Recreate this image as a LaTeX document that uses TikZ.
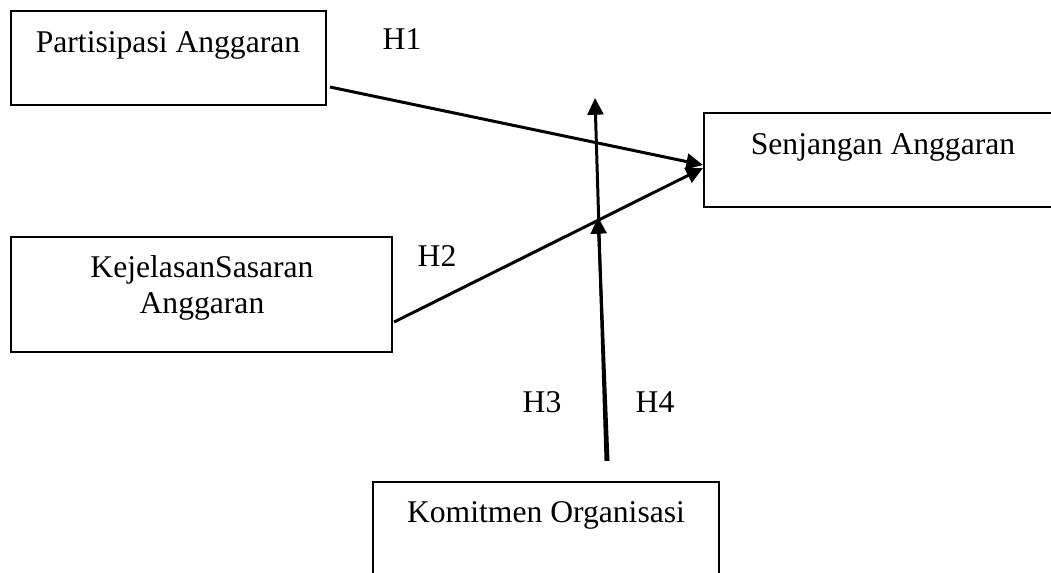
\documentclass[tikz,border=0pt]{standalone}
\usepackage{fontspec}
\setmainfont{Liberation Serif}
\usetikzlibrary{arrows.meta,positioning,calc}

\begin{document}
\begin{tikzpicture}[
  x=0.02cm,y=-0.02cm,
  var/.style={draw,line width=1.2pt,inner sep=0pt},
  lbl/.style={font=\fontsize{18}{20}\selectfont,anchor=base,inner sep=0pt},
  hyp/.style={font=\fontsize{18}{20}\selectfont,anchor=base,inner sep=0pt},
  tr/.style={-{Triangle[length=9.5pt,width=9pt]},line width=1.7pt}
]
\useasboundingbox (0,0) rectangle (1051,573);

% variable boxes
\node[var,minimum width=6.3cm,minimum height=1.88cm]  (part) at (168.5,58)  {};
\node[var,minimum width=7.12cm,minimum height=1.88cm] (senj) at (882,160)   {};
\node[var,minimum width=7.62cm,minimum height=2.3cm]  (kej)  at (201.5,294.5) {};
\node[var,minimum width=6.92cm,minimum height=2.36cm] (kom)  at (546,541)   {};

% box texts
\node[lbl] (partT) at (168,53)  {Partisipasi Anggaran};
\node[lbl] (senjT) at (883,155) {Senjangan Anggaran};
\node[lbl,anchor=center,align=center] (kejT) at (202,288) {KejelasanSasaran\\Anggaran};
\node[lbl] (komT)  at (546,523) {Komitmen Organisasi};

% free ends of the moderating arrows
\coordinate (m3s) at ($(kom.north)+(60,-20)$);
\coordinate (m4s) at ($(kom.north)+(62,-20)$);
\coordinate (m3e) at (595,98);
\coordinate (m4e) at (598,217);

\draw[tr] ($(part.south east)+(3,-19)$) -- ($(senj.west)+(0,5)$);
\draw[tr] ($(kej.south east)+(1,-31)$) -- ($(senj.west)+(0,8)$);
\draw[tr] (m3s) -- (m3e);
\draw[tr] (m4s) -- (m4e);

% hypotheses
\node[hyp] (h1) at (402,50)  {H1};
\node[hyp] (h2) at (437,267) {H2};
\node[hyp] (h3) at (542,413) {H3};
\node[hyp] (h4) at (655,413) {H4};
\end{tikzpicture}
\end{document}
